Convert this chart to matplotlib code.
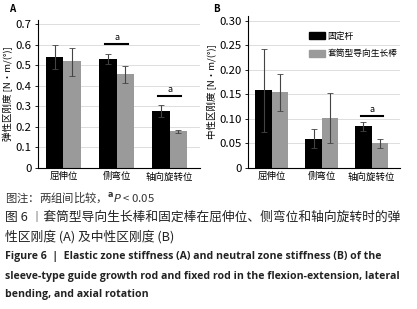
import matplotlib
matplotlib.use("Agg")
import matplotlib.pyplot as plt
import numpy as np

plt.rcParams['font.family'] = ['Noto Sans CJK SC', 'DejaVu Sans']

categories = ["屈伸位", "侧弯位", "轴向旋转位"]
series_names = ["固定杆", "套筒型导向生长棒"]

# Panel A: elastic zone stiffness
a_fixed = [0.540, 0.532, 0.278]
a_fixed_lo = [0.480, 0.505, 0.250]
a_fixed_hi = [0.600, 0.557, 0.305]
a_sleeve = [0.520, 0.455, 0.178]
a_sleeve_lo = [0.450, 0.415, 0.170]
a_sleeve_hi = [0.586, 0.495, 0.187]
a_sig = [(1, 0.603), (2, 0.350)]

# Panel B: neutral zone stiffness
b_fixed = [0.159, 0.060, 0.085]
b_fixed_lo = [0.074, 0.040, 0.076]
b_fixed_hi = [0.242, 0.080, 0.094]
b_sleeve = [0.154, 0.102, 0.050]
b_sleeve_lo = [0.116, 0.052, 0.041]
b_sleeve_hi = [0.192, 0.152, 0.059]
b_sig = [(2, 0.106)]

a_ticks = [0, 0.1, 0.2, 0.3, 0.4, 0.5, 0.6, 0.7]
a_ticklabels = ["0", "0.1", "0.2", "0.3", "0.4", "0.5", "0.6", "0.7"]
b_ticks = [0, 0.05, 0.10, 0.15, 0.20, 0.25, 0.30]
b_ticklabels = ["0", "0.05", "0.10", "0.15", "0.20", "0.25", "0.30"]

W, H = 417, 309
fig = plt.figure(figsize=(W / 100, H / 100), dpi=100)

def px_axes(l, t, r, b):
    return fig.add_axes([l / W, 1 - b / H, (r - l) / W, (b - t) / H])

BLACK = "#000000"
GRAY = "#9a9a9a"
bw = 0.33

def draw_panel(ax, f, flo, fhi, s, slo, shi, ticks, ticklabels, ylim, ylabel, sig, sig_dy):
    x = np.arange(len(categories))
    ax.bar(x - bw / 2, f, bw, color=BLACK, zorder=2)
    ax.bar(x + bw / 2, s, bw, color=GRAY, zorder=2)
    f = np.array(f); s = np.array(s)
    ax.errorbar(x - bw / 2, f, yerr=[f - np.array(flo), np.array(fhi) - f], fmt='none',
                ecolor="#444444", elinewidth=0.8, capsize=2, capthick=0.6, zorder=3)
    ax.errorbar(x + bw / 2, s, yerr=[s - np.array(slo), np.array(shi) - s], fmt='none',
                ecolor="#444444", elinewidth=0.8, capsize=2, capthick=0.6, zorder=3)
    for xi, yv in sig:
        ax.plot([xi - 0.22, xi + 0.22], [yv, yv], color=BLACK, lw=1.5, zorder=3)
        ax.text(xi, yv + sig_dy, "a", ha='center', va='bottom', fontsize=6.5)
    ax.set_ylim(*ylim)
    ax.set_xlim(-0.48, 2.57)
    ax.set_yticks(ticks)
    ax.set_yticklabels(ticklabels, fontsize=8.2)
    ax.set_xticks(x)
    ax.set_xticklabels(categories, fontsize=6.8)
    ax.tick_params(axis='x', length=0, pad=3)
    ax.tick_params(axis='y', length=2.5, width=0.6, pad=2)
    ax.yaxis.grid(True, color="#dddddd", lw=0.7, zorder=0)
    ax.set_axisbelow(True)
    for sp in ["top", "right"]:
        ax.spines[sp].set_visible(False)
    ax.spines["left"].set_linewidth(0.8)
    ax.spines["bottom"].set_linewidth(0.8)
    ax.set_ylabel(ylabel, fontsize=6.8, labelpad=2)

axA = px_axes(38, 20, 200, 168)
draw_panel(axA, a_fixed, a_fixed_lo, a_fixed_hi, a_sleeve, a_sleeve_lo, a_sleeve_hi,
           a_ticks, a_ticklabels, (0, 0.72), "弹性区刚度 [N・m/(°)]", a_sig, 0.012)

axB = px_axes(248, 16, 400, 168)
draw_panel(axB, b_fixed, b_fixed_lo, b_fixed_hi, b_sleeve, b_sleeve_lo, b_sleeve_hi,
           b_ticks, b_ticklabels, (0, 0.31), "中性区刚度 [N・m/(°)]", b_sig, 0.004)

from matplotlib.patches import Patch
axB.legend(handles=[Patch(color=BLACK, label=series_names[0]), Patch(color=GRAY, label=series_names[1])],
           loc='upper left', bbox_to_anchor=(0.38, 0.92), frameon=False, fontsize=6.3,
           handlelength=1.8, handleheight=0.9, handletextpad=0.25, labelspacing=1.0, borderaxespad=0)

fig.text(12 / W, 1 - 9 / H, "A", fontsize=7, fontweight='bold', ha='center', va='center')
fig.text(216 / W, 1 - 9 / H, "B", fontsize=7, fontweight='bold', ha='center', va='center')

fig.text(5 / W, 1 - 197 / H, r"图注：两组间比较，$^{\mathbf{a}}$$\it{P}$ < 0.05", fontsize=8.2,
         color="#333333", ha='left', va='center')
fig.text(5 / W, 1 - 217 / H, "图 6 ︱套筒型导向生长棒和固定棒在屈伸位、侧弯位和轴向旋转时的弹",
         fontsize=9.2, color="#222222", ha='left', va='center')
fig.text(5 / W, 1 - 237 / H, "性区刚度 (A) 及中性区刚度 (B)",
         fontsize=9.2, color="#222222", ha='left', va='center')
eng = ["Figure 6  |  Elastic zone stiffness (A) and neutral zone stiffness (B) of the",
       "sleeve-type guide growth rod and fixed rod in the flexion-extension, lateral",
       "bending, and axial rotation"]
for i, line in enumerate(eng):
    fig.text(5 / W, 1 - (257 + 19 * i) / H, line, fontsize=7.6, fontweight='bold',
             family=['Open Sans', 'DejaVu Sans'], color="#222222", ha='left', va='center')

fig.savefig("out.png", dpi=100)
